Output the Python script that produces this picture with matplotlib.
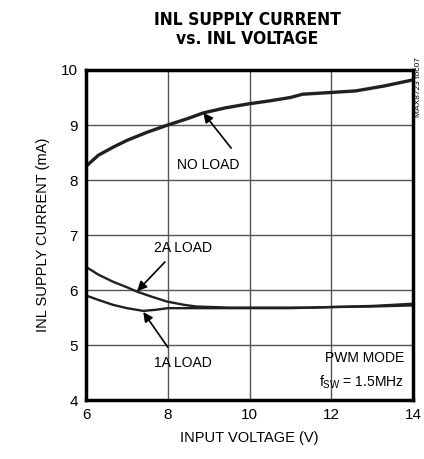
import matplotlib
matplotlib.use('Agg')
from matplotlib import pyplot as plt
from matplotlib.ticker import MultipleLocator

# data
v_noload = [6.0, 6.3, 6.67, 7.0, 7.5, 8.0, 8.5, 8.87, 9.4, 9.94, 10.5, 11.0, 11.3, 11.97, 12.6, 13.3, 14.0]
i_noload = [8.25, 8.45, 8.6, 8.72, 8.87, 9.0, 9.12, 9.22, 9.31, 9.38, 9.44, 9.5, 9.56, 9.59, 9.62, 9.71, 9.82]

v_2a = [6.0, 6.3, 6.66, 7.0, 7.25, 7.6, 7.98, 8.4, 8.7, 9.5, 10.5, 11.5, 12.0, 13.0, 14.0]
i_2a = [6.42, 6.28, 6.15, 6.05, 5.97, 5.88, 5.79, 5.73, 5.70, 5.68, 5.68, 5.68, 5.69, 5.71, 5.75]

v_1a = [6.0, 6.3, 6.66, 7.0, 7.4, 7.7, 8.0, 8.5, 9.0, 10.0, 11.0, 12.0, 13.0, 14.0]
i_1a = [5.9, 5.82, 5.73, 5.67, 5.62, 5.64, 5.67, 5.67, 5.67, 5.67, 5.67, 5.69, 5.70, 5.72]

TITLE = "INL SUPPLY CURRENT\nvs. INL VOLTAGE"
XLABEL = "INPUT VOLTAGE (V)"
YLABEL = "INL SUPPLY CURRENT (mA)"
LINE_COLOR = '#231f20'
GRID_COLOR = '#555555'

plt.rcParams['font.family'] = ['Liberation Sans', 'DejaVu Sans']

fig = plt.figure(figsize=(4.24, 4.59), dpi=100)
ax = fig.add_axes([0.203, 0.1285, 0.771, 0.719])

ax.plot(v_noload, i_noload, color=LINE_COLOR, linewidth=2.4)
ax.plot(v_2a, i_2a, color=LINE_COLOR, linewidth=1.7)
ax.plot(v_1a, i_1a, color=LINE_COLOR, linewidth=1.7)

ax.set_xlim(6, 14)
ax.set_ylim(4, 10)
ax.xaxis.set_major_locator(MultipleLocator(2))
ax.yaxis.set_major_locator(MultipleLocator(1))
ax.grid(True, color=GRID_COLOR, linewidth=1.0)
ax.tick_params(length=0, labelsize=11, pad=6)
for s in ax.spines.values():
    s.set_linewidth(2.5)
    s.set_color('black')

ax.set_xlabel(XLABEL, fontsize=10.5, labelpad=6)
ax.set_ylabel(YLABEL, fontsize=10.5, labelpad=8)

fig.text(0.584, 0.976, TITLE, ha='center', va='top', fontsize=12.5,
         fontweight='bold', linespacing=1.1,
         family='DejaVu Sans', fontstretch='condensed')

arrow = dict(arrowstyle='-|>', color='black', linewidth=1.2, mutation_scale=14, shrinkA=0, shrinkB=0)
ax.annotate("", xy=(8.87, 9.22), xytext=(9.55, 8.58), arrowprops=arrow)
ax.text(8.98, 8.27, "NO LOAD", ha='center', va='center', fontsize=10)
ax.annotate("", xy=(7.25, 5.98), xytext=(7.93, 6.51), arrowprops=arrow)
ax.text(8.37, 6.76, "2A LOAD", ha='center', va='center', fontsize=10)
ax.annotate("", xy=(7.4, 5.6), xytext=(8.0, 4.96), arrowprops=arrow)
ax.text(8.37, 4.67, "1A LOAD", ha='center', va='center', fontsize=10)

ax.text(13.78, 4.76, "PWM MODE", ha='right', va='center', fontsize=10)
ax.text(13.78, 4.33, r"f$_{\mathregular{SW}}$ = 1.5MHz", ha='right', va='center', fontsize=10)

fig.text(0.988, 0.875, "MAX8723 toc07", rotation=90, ha='center', va='top', fontsize=6)

fig.savefig('out.png', dpi=100)
